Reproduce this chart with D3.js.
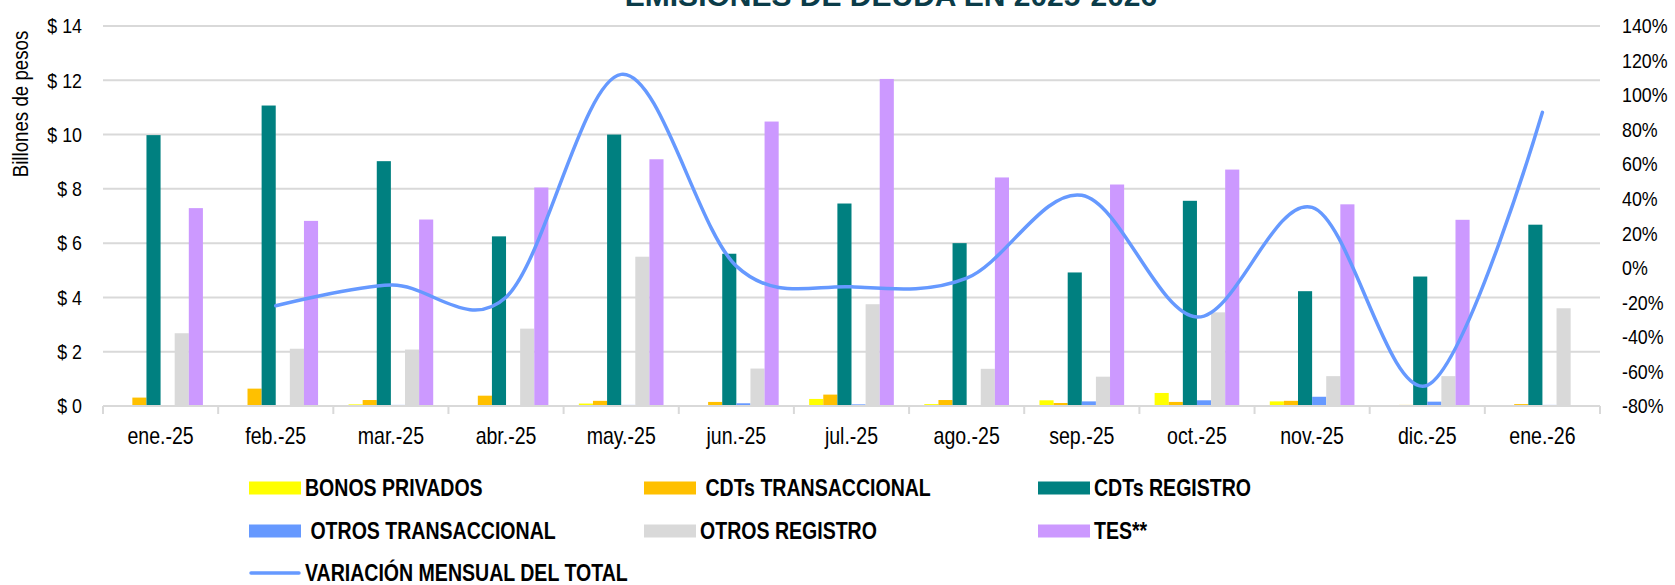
<!DOCTYPE html>
<html>
<head>
<meta charset="utf-8">
<script src="https://cdn.jsdelivr.net/npm/d3@7"></script>
<style>
  body { margin: 0; background: #fff; }
  svg { display: block; font-family: "Liberation Sans", Arial, sans-serif; }
</style>
</head>
<body>
<svg id="chart" width="1675" height="585"></svg>
<script>
'use strict'
// months on the x axis
const categories = ["ene.-25", "feb.-25", "mar.-25", "abr.-25", "may.-25", "jun.-25", "jul.-25",
    "ago.-25", "sep.-25", "oct.-25", "nov.-25", "dic.-25", "ene.-26"];

// bar series, billones de pesos
const bonosPrivados = [0, 0, 0.06, 0, 0.09, 0.02, 0.26, 0.07, 0.21, 0.48, 0.17, 0, 0];
const cdtsTransaccional = [0.31, 0.64, 0.22, 0.38, 0.19, 0.15, 0.42, 0.22, 0.11, 0.15, 0.19, 0.04, 0.07];
const cdtsRegistro = [9.98, 11.07, 9.02, 6.25, 10.0, 5.61, 7.46, 6.0, 4.92, 7.56, 4.23, 4.77, 6.68];
const otrosTransaccional = [0, 0, 0.04, 0, 0.04, 0.10, 0.06, 0.03, 0.17, 0.21, 0.34, 0.16, 0.04];
const otrosRegistro = [2.68, 2.11, 2.08, 2.85, 5.50, 1.38, 3.75, 1.37, 1.08, 3.45, 1.10, 1.10, 3.60];
const tes = [7.29, 6.82, 6.87, 8.05, 9.09, 10.48, 12.05, 8.42, 8.16, 8.71, 7.43, 6.86, 0];

// line series (right axis), monthly change of the total
const variacion = [null, -0.22, -0.10, -0.17, 1.12, 0.01, -0.11, -0.06, 0.42, -0.285, 0.35, -0.68, 0.90];

// axis ticks
const leftTicks = [0, 2, 4, 6, 8, 10, 12, 14];
const rightTicks = [-0.8, -0.6, -0.4, -0.2, 0, 0.2, 0.4, 0.6, 0.8, 1.0, 1.2, 1.4];

const seriesNames = ["BONOS PRIVADOS", " CDTs TRANSACCIONAL", "CDTs REGISTRO",
    " OTROS TRANSACCIONAL", "OTROS REGISTRO", "TES**"];
const seriesValues = [bonosPrivados, cdtsTransaccional, cdtsRegistro, otrosTransaccional, otrosRegistro, tes];
const seriesColors = ["#FFFF00", "#FFC000", "#008080", "#6699FF", "#D9D9D9", "#CC99FF"];
const lineName = "VARIACIÓN MENSUAL DEL TOTAL";
const lineColor = "#6699FF";

// no narrow font installed, so squeeze the text horizontally instead
const squeeze = 0.85;
function narrow(sel) {
    sel.each(function () {
        let t = d3.select(this);
        let tx = +t.attr("x") || 0, ty = +t.attr("y") || 0;
        let extra = t.attr("data-rot") ? ` rotate(${t.attr("data-rot")})` : "";
        t.attr("x", 0).attr("y", 0)
            .attr("transform", `translate(${tx},${ty})${extra} scale(${squeeze},1)`);
    });
}

function drawChart() {
    let svg = d3.select("#chart");
    let margin = { top: 26, right: 75, bottom: 179, left: 103 };
    let width = 1675 - margin.left - margin.right,
        height = 585 - margin.top - margin.bottom;

    let x = d3.scaleBand().domain(categories).range([0, width]).paddingInner(0).paddingOuter(0);
    let xs = d3.scaleBand().domain(d3.range(seriesNames.length)).range([0, x.bandwidth()])
        .paddingInner(0).paddingOuter(1.08);
    let y = d3.scaleLinear().domain([0, 14]).range([height, 0]);
    let y2 = d3.scaleLinear().domain([-0.8, 1.4]).range([height, 0]);

    let g = svg.append("g").attr("transform", `translate(${margin.left},${margin.top})`);

    // title, cut at the top edge like the original
    svg.append("text")
        .attr("x", 891)
        .attr("y", 6)
        .attr("text-anchor", "middle")
        .style("font-weight", "bold")
        .style("font-size", "30px")
        .attr("fill", "#0B3C49")
        .text("EMISIONES DE DEUDA EN 2025-2026");

    // gridlines
    g.append("g")
        .selectAll("line")
        .data(leftTicks.filter(d => d > 0))
        .enter().append("line")
        .attr("x1", 0).attr("x2", width)
        .attr("y1", d => y(d)).attr("y2", d => y(d))
        .attr("stroke", "#D9D9D9").attr("stroke-width", 2);

    // left axis
    let yAxis = g.append("g")
        .call(d3.axisLeft(y).tickValues(leftTicks).tickSize(0).tickPadding(21).tickFormat(d => "$ " + d));
    yAxis.select(".domain").remove();
    yAxis.selectAll("text").style("font-size", "21px").attr("fill", "#000").call(narrow);

    // right axis
    let y2Axis = g.append("g")
        .attr("transform", `translate(${width},0)`)
        .call(d3.axisRight(y2).tickValues(rightTicks).tickSize(0).tickPadding(22)
            .tickFormat(d => Math.round(d * 100) + "%"));
    y2Axis.select(".domain").remove();
    y2Axis.selectAll("text").style("font-size", "21px").attr("fill", "#000").call(narrow);

    // bars
    let groups = g.selectAll(".month")
        .data(categories)
        .enter().append("g")
        .attr("class", "month")
        .attr("transform", d => `translate(${x(d)},0)`);

    groups.selectAll("rect")
        .data((d, i) => seriesValues.map((s, k) => ({ k: k, v: s[i] })))
        .enter().append("rect")
        .attr("x", d => xs(d.k))
        .attr("width", xs.bandwidth())
        .attr("y", d => y(d.v))
        .attr("height", d => y(0) - y(d.v))
        .attr("fill", d => seriesColors[d.k]);

    // x axis with tick marks between months
    let xAxis = g.append("g").attr("transform", `translate(0,${height})`);
    xAxis.append("line")
        .attr("x1", 0).attr("x2", width)
        .attr("stroke", "#D9D9D9").attr("stroke-width", 2);
    xAxis.selectAll(".sep")
        .data(categories.concat(["end"]))
        .enter().append("line")
        .attr("class", "sep")
        .attr("x1", (d, i) => i * x.step()).attr("x2", (d, i) => i * x.step())
        .attr("y1", 0).attr("y2", 8)
        .attr("stroke", "#D9D9D9").attr("stroke-width", 2);
    xAxis.selectAll(".lbl")
        .data(categories)
        .enter().append("text")
        .attr("class", "lbl")
        .attr("x", d => x(d) + x.bandwidth() / 2)
        .attr("y", 38)
        .attr("text-anchor", "middle")
        .style("font-size", "23px")
        .attr("fill", "#000")
        .text(d => d)
        .call(narrow);

    // smoothed line on the right axis
    let line = d3.line()
        .x(d => x(d.c) + x.bandwidth() / 2)
        .y(d => y2(d.v))
        .curve(d3.curveCardinal.tension(0));
    g.append("path")
        .datum(categories.map((c, i) => ({ c: c, v: variacion[i] })).filter(d => d.v !== null))
        .attr("d", line)
        .attr("fill", "none")
        .attr("stroke", lineColor)
        .attr("stroke-width", 3.5)
        .attr("stroke-linecap", "round");

    // y axis title
    svg.append("text")
        .attr("x", 28).attr("y", 104)
        .attr("data-rot", -90)
        .attr("text-anchor", "middle")
        .style("font-size", "22px")
        .attr("fill", "#000")
        .text("Billones de pesos")
        .call(narrow);

    // legend
    let colX = [249, 644, 1038];
    let rowY = [488, 531, 573];
    let legendItems = seriesNames.map((n, i) => ({ name: n, color: seriesColors[i], type: "bar" }));
    legendItems.push({ name: lineName, color: lineColor, type: "line" });

    let legend = svg.append("g")
        .selectAll("g")
        .data(legendItems)
        .enter().append("g")
        .attr("transform", (d, i) => `translate(${colX[i % 3]},${rowY[Math.floor(i / 3)]})`);

    legend.filter(d => d.type === "bar").append("rect")
        .attr("x", 0).attr("y", -6.5)
        .attr("width", 52).attr("height", 13)
        .attr("fill", d => d.color);
    legend.filter(d => d.type === "line").append("line")
        .attr("x1", 2).attr("x2", 50)
        .attr("stroke", d => d.color)
        .attr("stroke-width", 3.5)
        .attr("stroke-linecap", "round");

    legend.append("text")
        .attr("x", 56)
        .attr("dy", "0.35em")
        .style("font-size", "23px")
        .style("font-weight", "bold")
        .style("white-space", "pre")
        .attr("fill", "#000")
        .text(d => d.name)
        .call(narrow);
}

drawChart();
</script>
</body>
</html>
